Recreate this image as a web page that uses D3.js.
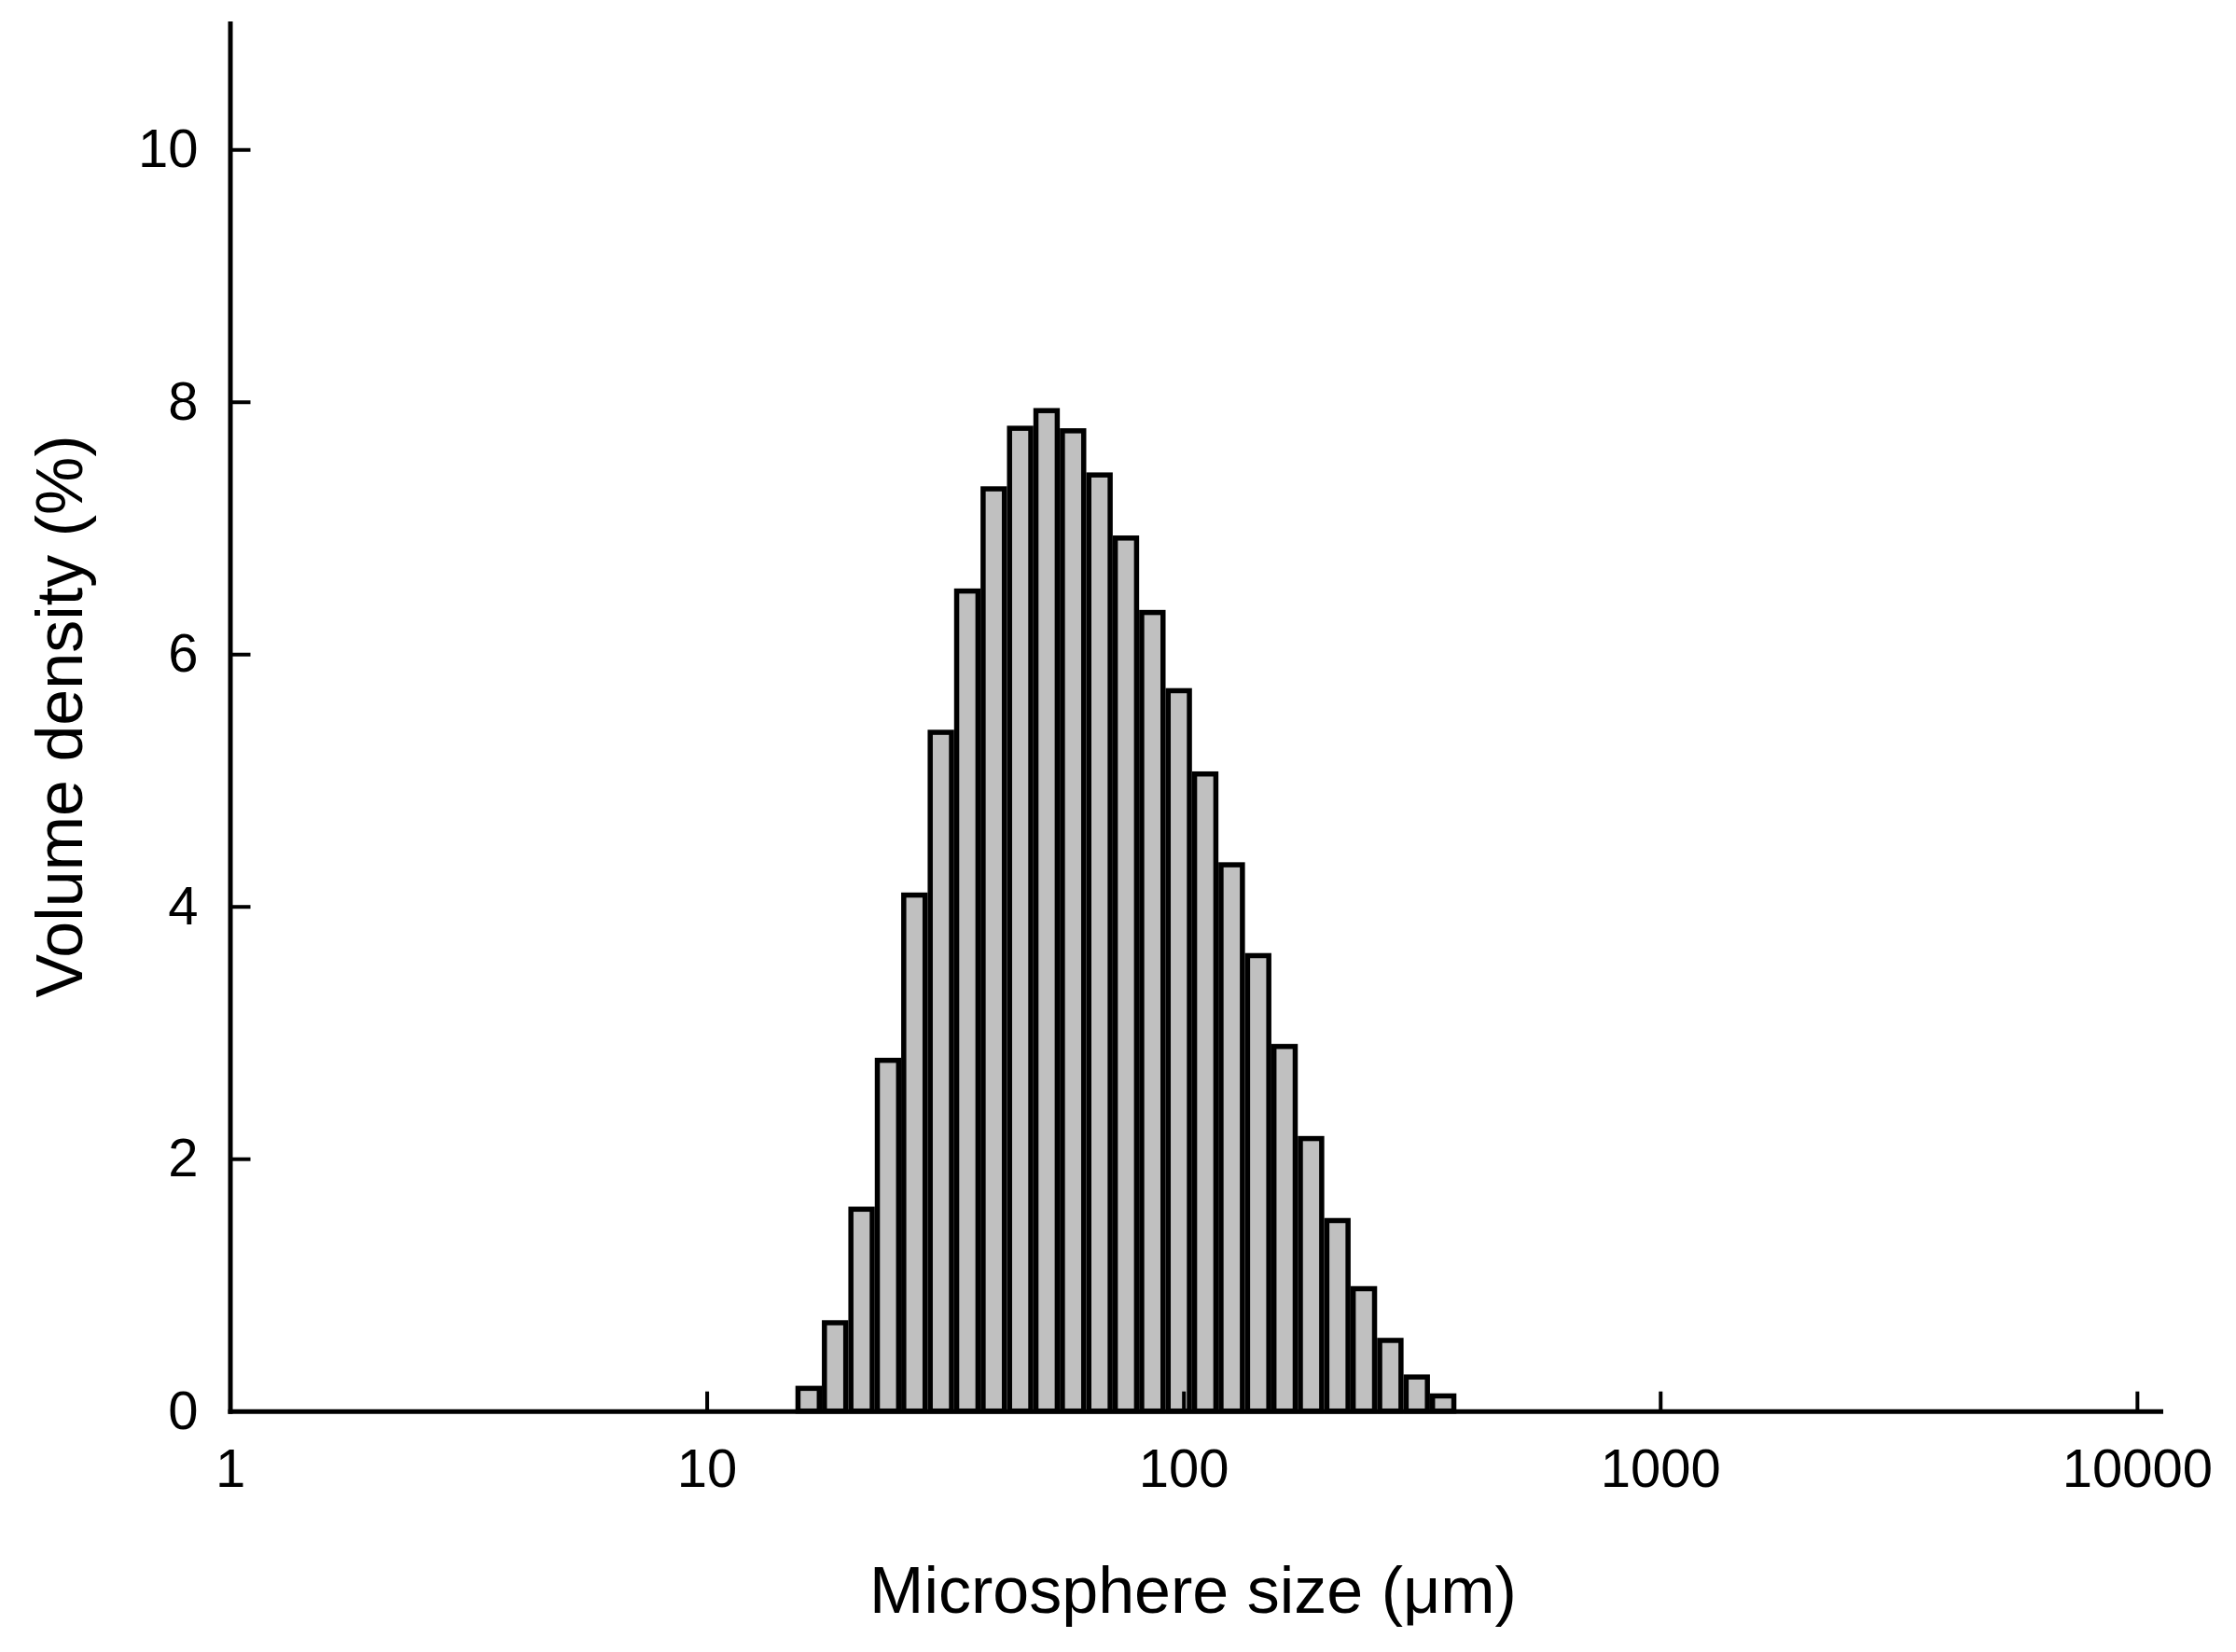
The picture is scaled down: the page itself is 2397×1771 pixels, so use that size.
<!DOCTYPE html>
<html>
<head>
<meta charset="utf-8">
<script src="https://cdn.jsdelivr.net/npm/d3@7"></script>
<style>
  body { margin: 0; background: #fff; }
  svg { display: block; font-family: "Liberation Sans", Arial, sans-serif; }
</style>
</head>
<body>
<svg id="chart" width="2397" height="1771"></svg>
<script>
// bin edges (um)
const binEdges = [15.35, 17.44, 19.82, 22.52, 25.58, 29.07, 33.03, 37.53, 42.64, 48.44,
  55.04, 62.54, 71.06, 80.73, 91.73, 104.2, 118.4, 134.6, 152.9, 173.7,
  197.4, 224.2, 254.8, 289.5, 328.9, 373.7];
// volume density (%) per bin
const volumeDensity = [0.18, 0.70, 1.60, 2.78, 4.09, 5.38, 6.50, 7.31, 7.79, 7.93,
  7.77, 7.42, 6.92, 6.33, 5.71, 5.05, 4.33, 3.61, 2.89, 2.16,
  1.51, 0.97, 0.56, 0.27, 0.12];
const xTicks = [1, 10, 100, 1000, 10000];
const yTicks = [0, 2, 4, 6, 8, 10];
const xTitle = "Microsphere size (\u03bcm)";
const yTitle = "Volume density (%)";

const svg = d3.select("svg#chart");

//plot area in page pixels
const area = { left: 246.5, right: 2316, top: 25, bottom: 1512.7 };
const sw = 5.5; // bar outline width

const xScale = d3.scaleLog().domain([1, 11200]).range([area.left, area.right]);
const yScale = d3.scaleLinear().domain([0, 11]).range([area.bottom, area.top]);

// bars
const bins = volumeDensity.map((v, i) => ({ lo: binEdges[i], hi: binEdges[i + 1], v }));
svg.append("g")
  .selectAll("rect")
  .data(bins)
  .enter()
  .append("rect")
  .attr("x", d => xScale(d.lo) + sw / 2)
  .attr("width", d => xScale(d.hi) - xScale(d.lo) - sw)
  .attr("y", d => yScale(d.v))
  .attr("height", d => yScale(0) - yScale(d.v))
  .style("fill", "#c0c0c0")
  .style("stroke", "#000")
  .style("stroke-width", sw);

// axis
const xAxis = svg.append("g")
  .attr("transform", `translate(0, ${area.bottom})`)
  .call(d3.axisBottom(xScale)
    .tickValues(xTicks)
    .tickFormat(d3.format("d"))
    .tickSizeInner(-21)
    .tickSizeOuter(0)
    .tickPadding(40));

const yAxis = svg.append("g")
  .attr("transform", `translate(${area.left}, 0)`)
  .call(d3.axisLeft(yScale)
    .tickValues(yTicks)
    .tickFormat(d3.format("d"))
    .tickSizeInner(-22)
    .tickSizeOuter(0)
    .tickPadding(34));

[xAxis, yAxis].forEach(ax => {
  ax.select(".domain").style("stroke", "#000").style("stroke-width", 5).style("stroke-linecap", "square");
  ax.selectAll(".tick line").style("stroke", "#000").style("stroke-width", 4);
  ax.selectAll(".tick text")
    .style("font-size", "58px")
    .style("fill", "#000")
    .style("font-family", "'Liberation Sans', Arial, sans-serif");
});
// x=1 tick sits on the y axis
xAxis.selectAll(".tick line").filter(d => d === 1).remove();
yAxis.selectAll(".tick line").filter(d => d === 0).remove();

// titles
svg.append("text")
  .attr("x", 1279)
  .attr("y", 1729)
  .attr("text-anchor", "middle")
  .style("font-size", "70px")
  .text(xTitle);

svg.append("text")
  .attr("transform", "translate(88, 768) rotate(-90)")
  .attr("text-anchor", "middle")
  .style("font-size", "70px")
  .text(yTitle);
</script>
</body>
</html>
